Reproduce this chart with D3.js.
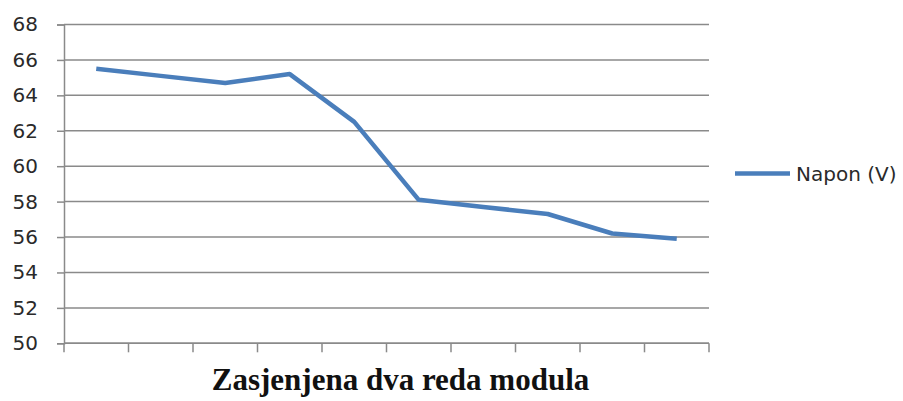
<!DOCTYPE html>
<html>
<head>
<meta charset="utf-8">
<script src="https://cdn.jsdelivr.net/npm/d3@7"></script>
<style>
  html, body { margin: 0; padding: 0; background: #ffffff; }
  svg { display: block; }
</style>
</head>
<body>
<svg id="chart" width="903" height="401"></svg>
<script>
// Measurement points along the row (no category labels are shown)
const categories = ["1", "2", "3", "4", "5", "6", "7", "8", "9", "10"];
// Voltage readings, Napon (V)
const napon = [65.5, 65.1, 64.7, 65.2, 62.5, 58.1, 57.7, 57.3, 56.2, 55.9];
const yTicks = [50, 52, 54, 56, 58, 60, 62, 64, 66, 68];
const seriesName = "Napon (V)";
const axisTitle = "Zasjenjena dva reda modula";

const svg = d3.select("#chart");
const plot = { left: 64, right: 709, top: 24.5, bottom: 343.3 };

const x = d3.scaleBand().domain(categories).range([plot.left, plot.right]).padding(0);
const y = d3.scaleLinear().domain([50, 68]).range([plot.bottom, plot.top]);

const gridColor = "#8a8a8a";
const lineColor = "#4a7ebb";
const labelFont = "'DejaVu Sans', Verdana, sans-serif";

// Horizontal gridlines
svg.append("g")
  .selectAll("line")
  .data(yTicks)
  .join("line")
  .attr("x1", plot.left)
  .attr("x2", plot.right)
  .attr("y1", d => y(d))
  .attr("y2", d => y(d))
  .attr("stroke", gridColor)
  .attr("stroke-width", 1.5);

// Y axis with tick labels
const yAxis = svg.append("g")
  .attr("transform", `translate(${plot.left},0)`)
  .call(d3.axisLeft(y).tickValues(yTicks).tickSize(7).tickPadding(19));
yAxis.select(".domain").attr("stroke", gridColor).attr("stroke-width", 1.5);
yAxis.selectAll(".tick line").attr("stroke", gridColor).attr("stroke-width", 1.5);
yAxis.selectAll(".tick text")
  .attr("fill", "#2a2a2a")
  .style("font-family", labelFont)
  .style("font-size", "20px");

// X axis: tick marks at category boundaries
const boundaries = categories.map(c => x(c)).concat([plot.right]);
const xAxis = svg.append("g")
  .attr("transform", `translate(0,${plot.bottom})`);
xAxis.append("line")
  .attr("x1", plot.left).attr("x2", plot.right)
  .attr("stroke", gridColor).attr("stroke-width", 1.5);
xAxis.selectAll("line.tick")
  .data(boundaries)
  .join("line")
  .attr("class", "tick")
  .attr("x1", d => d).attr("x2", d => d)
  .attr("y1", 0).attr("y2", 9)
  .attr("stroke", gridColor).attr("stroke-width", 1.5);

// Data line
const line = d3.line()
  .x((d, i) => x(categories[i]) + x.bandwidth() / 2)
  .y(d => y(d));
svg.append("path")
  .datum(napon)
  .attr("d", line)
  .attr("fill", "none")
  .attr("stroke", lineColor)
  .attr("stroke-width", 4.5)
  .attr("stroke-linejoin", "round");

// Legend
const legend = svg.append("g").attr("transform", "translate(735,173.5)");
legend.append("line")
  .attr("x1", 0).attr("x2", 55)
  .attr("y1", 0).attr("y2", 0)
  .attr("stroke", lineColor).attr("stroke-width", 4.5);
legend.append("text")
  .attr("x", 61).attr("y", 0)
  .attr("dy", "0.35em")
  .attr("fill", "#2a2a2a")
  .style("font-family", labelFont)
  .style("font-size", "20px")
  .text(seriesName);

// Axis title
svg.append("text")
  .attr("x", (plot.left + plot.right) / 2 + 14)
  .attr("y", 390)
  .attr("text-anchor", "middle")
  .attr("fill", "#111111")
  .style("font-family", "'Liberation Serif', 'Times New Roman', serif")
  .style("font-weight", "bold")
  .style("font-size", "31px")
  .text(axisTitle);
</script>
</body>
</html>
